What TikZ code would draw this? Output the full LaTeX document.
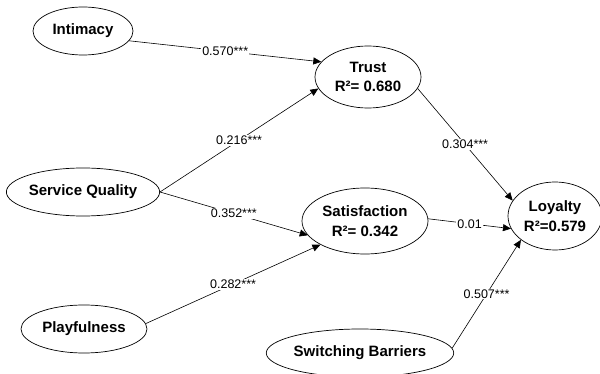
\documentclass[tikz,border=0pt]{standalone}
\usepackage{fontspec}
\setmainfont{Liberation Sans}
\usetikzlibrary{arrows.meta,shapes.geometric}

\begin{document}
\begin{tikzpicture}[x=1pt,y=-1pt,
  construct/.style={draw, ellipse, line width=0.7pt, inner sep=0pt, align=center,
    font=\fontsize{15}{19.5}\selectfont\bfseries},
  path/.style={line width=0.6pt, -{Triangle[length=8pt,width=7pt]}},
  coef/.style={fill=white, inner sep=1pt, font=\fontsize{12.5}{14}\selectfont, midway}
]
\useasboundingbox (0,0) rectangle (600,374);

% constructs
\node[construct, minimum width=100pt, minimum height=48pt] (int)   at (83,31)   {Intimacy};
\node[construct, minimum width=106pt, minimum height=62pt] (trust) at (368,77)  {Trust\\R²= 0.680};
\node[construct, minimum width=150pt, minimum height=48pt] (sq)    at (83,192)  {Service Quality};
\node[construct, minimum width=126pt, minimum height=66pt] (sat)   at (365,221) {Satisfaction\\R²= 0.342};
\node[construct, minimum width=94pt,  minimum height=68pt] (loy)   at (555,216) {Loyalty\\R²=0.579};
\node[construct, minimum width=126pt, minimum height=48pt] (play)  at (84,329)  {Playfulness};
\node[construct, minimum width=180pt, minimum height=48pt] (sw)    at (360,353) {Switching Barriers};

% structural paths with coefficients
\draw[path] (int.-12)  -- node[coef] {0.570***} (trust.162);
\draw[path] (sq.east)  -- node[coef] {0.216***} (trust.193);
\draw[path] (sq.east)  -- node[coef] {0.352***} (sat.194);
\draw[path] (play.5)   -- node[coef] {0.282***} (sat.208);
\draw[path] (trust.-13) -- node[coef] {0.304***} (loy.160);
\draw[path] (sat.2)    -- node[coef] {0.01} (loy.196);
\draw[path] (sw.3)     -- node[coef] {0.507***} (loy.215);
\end{tikzpicture}
\end{document}
